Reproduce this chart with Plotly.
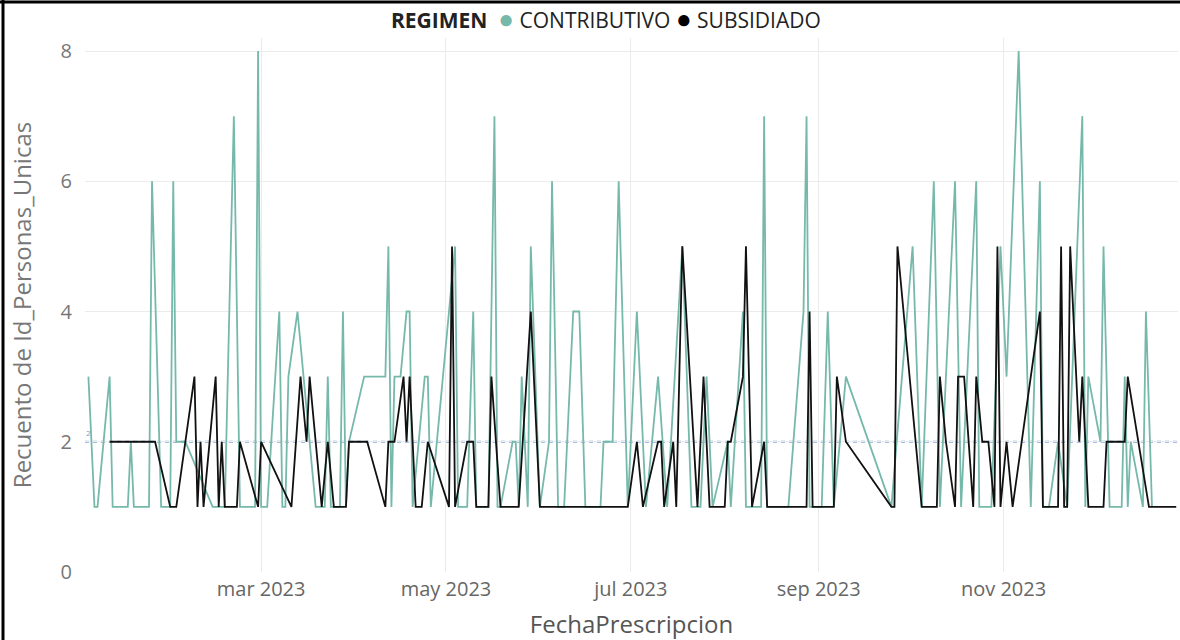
import plotly.graph_objects as go

# ---- data ----
contrib_dates = [
    "2023-01-03", "2023-01-05", "2023-01-06", "2023-01-10", "2023-01-11", "2023-01-16", "2023-01-17",
    "2023-01-18", "2023-01-23", "2023-01-24", "2023-01-27", "2023-01-30", "2023-01-31", "2023-02-01",
    "2023-02-04", "2023-02-13", "2023-02-17", "2023-02-20", "2023-02-22", "2023-02-27", "2023-02-28",
    "2023-03-01", "2023-03-03", "2023-03-07", "2023-03-08", "2023-03-09", "2023-03-10", "2023-03-13",
    "2023-03-19", "2023-03-22", "2023-03-23", "2023-03-24", "2023-03-27", "2023-03-28", "2023-03-29",
    "2023-03-30", "2023-04-04", "2023-04-11", "2023-04-12", "2023-04-13", "2023-04-14", "2023-04-16",
    "2023-04-18", "2023-04-19", "2023-04-20", "2023-04-24", "2023-04-25", "2023-04-26", "2023-05-04",
    "2023-05-05", "2023-05-08", "2023-05-10", "2023-05-11", "2023-05-15", "2023-05-17", "2023-05-18",
    "2023-05-19", "2023-05-23", "2023-05-24", "2023-05-25", "2023-05-26", "2023-05-28", "2023-05-29",
    "2023-06-01", "2023-06-04", "2023-06-05", "2023-06-07", "2023-06-09", "2023-06-12", "2023-06-14",
    "2023-06-16", "2023-06-21", "2023-06-22", "2023-06-25", "2023-06-27", "2023-06-30", "2023-07-03",
    "2023-07-06", "2023-07-10", "2023-07-13", "2023-07-18", "2023-07-21", "2023-07-24", "2023-07-26",
    "2023-07-28", "2023-08-02", "2023-08-03", "2023-08-07", "2023-08-08", "2023-08-13", "2023-08-14",
    "2023-08-15", "2023-08-22", "2023-08-27", "2023-08-28", "2023-08-29", "2023-09-02", "2023-09-04",
    "2023-09-06", "2023-09-10", "2023-09-25", "2023-10-02", "2023-10-05", "2023-10-09", "2023-10-11",
    "2023-10-16", "2023-10-18", "2023-10-23", "2023-10-24", "2023-10-28", "2023-10-31", "2023-11-02",
    "2023-11-06", "2023-11-10", "2023-11-13", "2023-11-14", "2023-11-16", "2023-11-19", "2023-11-22",
    "2023-11-27", "2023-11-28", "2023-11-29", "2023-12-03", "2023-12-04", "2023-12-06", "2023-12-10",
    "2023-12-11", "2023-12-12", "2023-12-13", "2023-12-17", "2023-12-18", "2023-12-20",
]
contrib_values = [
    3, 1, 1, 3, 1, 1, 2,
    1, 1, 6, 1, 1, 6, 2,
    2, 1, 1, 7, 1, 1, 8,
    1, 1, 4, 1, 1, 3, 4,
    1, 1, 3, 1, 1, 4, 1,
    2, 3, 3, 5, 1, 3, 3,
    4, 4, 1, 3, 3, 1, 5,
    1, 1, 4, 1, 1, 7, 1,
    1, 2, 2, 1, 3, 1, 5,
    1, 2, 6, 1, 1, 4, 4,
    1, 1, 2, 2, 6, 1, 4,
    1, 3, 1, 5, 1, 1, 3,
    1, 2, 1, 4, 1, 1, 7,
    1, 1, 4, 7, 1, 1, 4,
    1, 3, 1, 5, 1, 6, 1,
    6, 1, 6, 1, 1, 5, 3,
    8, 1, 6, 1, 1, 2, 1,
    7, 1, 3, 2, 5, 1, 1,
    3, 1, 2, 1, 4, 1,
]

subsid_dates = [
    "2023-01-10", "2023-01-25", "2023-01-30", "2023-02-01", "2023-02-07", "2023-02-08", "2023-02-09",
    "2023-02-10", "2023-02-14", "2023-02-15", "2023-02-16", "2023-02-17", "2023-02-21", "2023-02-22",
    "2023-02-28", "2023-03-01", "2023-03-11", "2023-03-14", "2023-03-16", "2023-03-17", "2023-03-21",
    "2023-03-23", "2023-03-25", "2023-03-29", "2023-03-30", "2023-04-05", "2023-04-11", "2023-04-12",
    "2023-04-14", "2023-04-17", "2023-04-18", "2023-04-19", "2023-04-21", "2023-04-23", "2023-04-25",
    "2023-05-02", "2023-05-03", "2023-05-04", "2023-05-08", "2023-05-10", "2023-05-11", "2023-05-15",
    "2023-05-16", "2023-05-19", "2023-05-25", "2023-05-29", "2023-06-01", "2023-06-30", "2023-07-03",
    "2023-07-05", "2023-07-10", "2023-07-11", "2023-07-12", "2023-07-15", "2023-07-16", "2023-07-18",
    "2023-07-23", "2023-07-25", "2023-07-27", "2023-08-01", "2023-08-02", "2023-08-03", "2023-08-07",
    "2023-08-08", "2023-08-10", "2023-08-14", "2023-08-15", "2023-08-28", "2023-08-29", "2023-08-30",
    "2023-09-06", "2023-09-07", "2023-09-10", "2023-09-25", "2023-09-26", "2023-09-27", "2023-09-29",
    "2023-10-05", "2023-10-10", "2023-10-11", "2023-10-13", "2023-10-16", "2023-10-17", "2023-10-19",
    "2023-10-22", "2023-10-23", "2023-10-25", "2023-10-27", "2023-10-29", "2023-10-30", "2023-10-31",
    "2023-11-02", "2023-11-04", "2023-11-13", "2023-11-14", "2023-11-19", "2023-11-20", "2023-11-21",
    "2023-11-22", "2023-11-23", "2023-11-26", "2023-11-27", "2023-11-29", "2023-12-04", "2023-12-05",
    "2023-12-11", "2023-12-12", "2023-12-19", "2023-12-28",
]
subsid_values = [
    2, 2, 1, 1, 3, 1, 2,
    1, 3, 1, 2, 1, 1, 2,
    1, 2, 1, 3, 2, 3, 1,
    2, 1, 1, 2, 2, 1, 2,
    2, 3, 2, 3, 1, 1, 2,
    1, 5, 1, 2, 2, 1, 1,
    3, 1, 1, 4, 1, 1, 2,
    1, 2, 2, 1, 2, 1, 5,
    1, 3, 1, 1, 2, 2, 3,
    5, 1, 2, 1, 1, 4, 1,
    1, 3, 2, 1, 1, 5, 4,
    1, 1, 3, 2, 1, 3, 3,
    1, 3, 2, 2, 1, 5, 1,
    2, 1, 4, 1, 1, 5, 1,
    1, 5, 2, 3, 1, 1, 2,
    2, 3, 1, 1,
]

reference_value = 2
x_tick_vals = ["2023-03-01", "2023-05-01", "2023-07-01", "2023-09-01", "2023-11-01"]
x_tick_text = ["mar 2023", "may 2023", "jul 2023", "sep 2023", "nov 2023"]
y_tick_vals = [0, 2, 4, 6, 8]

TEAL = "#76B9AB"
FONT = "Segoe UI, Open Sans, sans-serif"

# plot-area pixel geometry
W, H = 1180, 640
L, R, T, B = 85, 2, 38, 68
pw, ph = W - L - R, H - T - B


def px_to_paper_x(px):
    return (px - L) / pw


def py_to_paper_y(py):
    return (H - B - py) / ph


fig = go.Figure()
fig.add_trace(go.Scatter(
    x=contrib_dates, y=contrib_values, mode="lines", name="CONTRIBUTIVO",
    line=dict(color=TEAL, width=1.8), showlegend=False,
))
fig.add_trace(go.Scatter(
    x=subsid_dates, y=subsid_values, mode="lines", name="SUBSIDIADO",
    line=dict(color="#111111", width=1.8), showlegend=False,
))

# reference (average) line
fig.add_hline(y=reference_value, line=dict(color="#84A9DC", width=2, dash="4px,4px"), layer="below")

fig.update_layout(
    width=W, height=H,
    margin=dict(l=L, r=R, t=T, b=B, autoexpand=False),
    paper_bgcolor="white", plot_bgcolor="white",
    font=dict(family=FONT, color="#666666"),
    xaxis=dict(
        range=["2023-01-01 21:00", "2023-12-28 14:00"],
        tickvals=x_tick_vals, ticktext=x_tick_text,
        tickfont=dict(size=20, color="#666666"),
        showgrid=True, gridcolor="#EBEBEB", gridwidth=1,
        zeroline=False, showline=False, ticks="", ticklabelstandoff=3,
        automargin=False,
        title=dict(text="FechaPrescripcion", font=dict(size=24, color="#555555"), standoff=17),
    ),
    yaxis=dict(
        range=[0, 8.2],
        tickvals=y_tick_vals,
        tickfont=dict(size=20, color="#777777"),
        showgrid=True, gridcolor="#EBEBEB", gridwidth=1,
        zeroline=False, showline=False, ticks="", ticklabelstandoff=12,
        automargin=False,
        title=dict(text="Recuento de Id_Personas_Unicas", font=dict(size=24, color="#777777"), standoff=22),
    ),
    showlegend=False,
)

# legend (as text with coloured dots)
fig.add_annotation(
    xref="paper", yref="paper",
    x=px_to_paper_x(606), y=py_to_paper_y(18),
    xanchor="center", yanchor="middle", showarrow=False,
    text=("<b>REGIMEN</b>  <span style='color:%s;font-size:26px'>●</span> CONTRIBUTIVO "
          "<span style='color:#000000;font-size:26px'>●</span> SUBSIDIADO") % TEAL,
    font=dict(size=21, color="#222222", family=FONT),
)
# small label for the reference line
fig.add_annotation(
    xref="paper", yref="y",
    x=px_to_paper_x(84), y=reference_value,
    xanchor="left", yanchor="bottom", showarrow=False, yshift=2,
    text=str(reference_value), font=dict(size=8, color="#7D9CCB", family=FONT),
)

# outer frame (left and top edges visible in the reference)
fig.add_shape(type="line", xref="paper", yref="paper",
              x0=px_to_paper_x(3), x1=px_to_paper_x(3), y0=py_to_paper_y(0), y1=py_to_paper_y(H),
              line=dict(color="black", width=3))
fig.add_shape(type="line", xref="paper", yref="paper",
              x0=px_to_paper_x(0), x1=px_to_paper_x(W), y0=py_to_paper_y(2), y1=py_to_paper_y(2),
              line=dict(color="black", width=3))

fig.write_html("out.html", config={"displayModeBar": False},
               post_script="document.body.style.margin='0';")
